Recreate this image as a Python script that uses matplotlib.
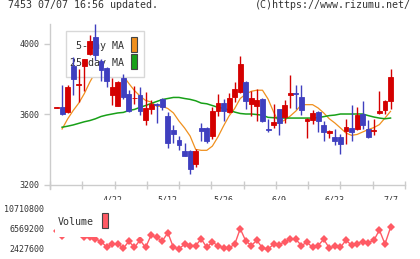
"""7453 candlestick chart with 5/25-day MA and volume panel."""
import matplotlib
matplotlib.use("Agg")
import matplotlib.pyplot as plt
import numpy as np
from matplotlib.patches import Rectangle

W, H = 420, 259

# ---- data (61 trading days, 4/8 .. 7/7) ----
opens = [3636, 3638, 3610, 3871, 3766, 3871, 3940, 4039, 3899, 3861,
         3708, 3647, 3804, 3716, 3688, 3710, 3568, 3630, 3657, 3685,
         3587, 3511, 3451, 3388, 3388, 3318, 3521, 3521, 3473, 3615,
         3662, 3610, 3696, 3723, 3782, 3657, 3647, 3685, 3517, 3540,
         3628, 3583, 3710, 3719, 3696, 3562, 3568, 3611, 3540, 3494,
         3472, 3468, 3502, 3521, 3517, 3600, 3515, 3504, 3606, 3625,
         3676]
highs = [3640, 3763, 3763, 3922, 3857, 3914, 4048, 4110, 3914, 3866,
         3803, 3785, 3827, 3738, 3757, 3751, 3725, 3681, 3662, 3690,
         3611, 3540, 3477, 3436, 3394, 3403, 3549, 3525, 3640, 3713,
         3685, 3719, 3782, 3927, 3785, 3729, 3742, 3688, 3573, 3657,
         3630, 3679, 3823, 3766, 3766, 3580, 3625, 3615, 3558, 3510,
         3515, 3487, 3573, 3649, 3638, 3672, 3564, 3573, 3732, 3680,
         3855]
lows = [3636, 3596, 3604, 3710, 3668, 3729, 3935, 3906, 3785, 3751,
        3651, 3645, 3687, 3610, 3657, 3596, 3540, 3600, 3549, 3625,
        3407, 3436, 3398, 3360, 3261, 3298, 3449, 3436, 3460, 3587,
        3562, 3608, 3668, 3720, 3628, 3587, 3562, 3555, 3498, 3521,
        3483, 3549, 3634, 3630, 3596, 3464, 3543, 3498, 3449, 3464,
        3422, 3373, 3430, 3445, 3507, 3517, 3464, 3483, 3600, 3600,
        3630]
closes = [3640, 3600, 3751, 3800, 3772, 3914, 4016, 3935, 3852, 3785,
          3755, 3780, 3696, 3615, 3693, 3615, 3634, 3659, 3650, 3640,
          3436, 3487, 3426, 3360, 3290, 3388, 3502, 3445, 3615, 3662,
          3619, 3691, 3742, 3884, 3676, 3691, 3681, 3562, 3507, 3555,
          3549, 3649, 3719, 3715, 3625, 3573, 3606, 3562, 3496, 3505,
          3449, 3430, 3526, 3500, 3592, 3540, 3470, 3508, 3619, 3676,
          3810]
ma5 = [np.nan, 3515, 3572, 3620, 3662, 3716, 3782, 3838, 3872, 3884,
       3872, 3844, 3816, 3773, 3733, 3702, 3677, 3668, 3644, 3644,
       3631, 3606, 3560, 3521, 3475, 3399, 3394, 3394, 3418, 3470,
       3532, 3589, 3631, 3688, 3713, 3729, 3735, 3735, 3685, 3611,
       3549, 3566, 3589, 3617, 3653, 3653, 3653, 3634, 3606, 3573,
       3549, 3521, 3492, 3479, 3484, 3498, 3512, 3523, 3540, 3577,
       3615]
ma25 = [np.nan, 3525, 3531, 3538, 3547, 3556, 3563, 3573, 3586, 3594,
        3600, 3606, 3609, 3620, 3626, 3638, 3648, 3660, 3671, 3682,
        3688, 3694, 3694, 3688, 3683, 3675, 3662, 3658, 3648, 3638,
        3632, 3623, 3611, 3603, 3600, 3600, 3597, 3593, 3581, 3579,
        3577, 3577, 3577, 3577, 3577, 3577, 3577, 3580, 3585, 3591,
        3594, 3600, 3600, 3600, 3600, 3600, 3591, 3583, 3577, 3573,
        3577]
volume = [6150000, 5220000, 6150000, 6570000, 5950000, 4810000, 4810000,
          4500000, 3980000, 2840000, 3460000, 3530000, 2570000, 4020000,
          2740000, 4290000, 2740000, 5330000, 4810000, 4080000, 5800000,
          2740000, 2490000, 3400000, 3150000, 3150000, 4500000, 2740000,
          3920000, 3050000, 2700000, 2700000, 3360000, 6630000, 4080000,
          3150000, 4250000, 2590000, 2430000, 3400000, 3260000, 3980000,
          4400000, 4400000, 3150000, 3820000, 2740000, 3150000, 4440000,
          2630000, 3010000, 2780000, 4250000, 3210000, 3530000, 3980000,
          3770000, 4190000, 6360000, 3460000, 6880000]
date_labels = ["4/22", "5/12", "5/26", "6/9", "6/23", "7/7"]
date_index = [10, 20, 30, 40, 50, 60]
price_ticks = [3200, 3600, 4000]
volume_ticks = [2427600, 6569200, 10710800]

RED = "#d40000"
BLUE = "#3f3fbf"
ORANGE = "#f0901e"
GREEN = "#18a018"
VOLCOL = "#ff5a64"
AXCOL = "#cccccc"
TXT = "#333333"
MONO = "DejaVu Sans Mono"


def fx(x):
    return x / W


def fy(y):
    return 1 - y / H


fig = plt.figure(figsize=(W / 100, H / 100), dpi=100)

# ---- price panel ----
ax = fig.add_axes([fx(50), fy(189), (405 - 50) / W, (189 - 24) / H])
x = np.arange(len(closes))
o = np.array(opens, float)
c = np.array(closes, float)
up = c >= o
cols = np.where(up, RED, BLUE)
ax.vlines(x, lows, highs, colors=cols, linewidth=1.0, zorder=4)
ax.bar(x, c - o, bottom=o, width=0.88, color=cols, edgecolor=cols,
       linewidth=0.6, zorder=5)
ax.plot(x, ma5, color=ORANGE, linewidth=0.9, zorder=2)
ax.plot(x, ma25, color=GREEN, linewidth=1.1, zorder=2)

ax.set_xlim(-1.17, 62.6)
ax.set_ylim(3174.5, 4110.7)
for s in ("top", "right"):
    ax.spines[s].set_visible(False)
for s in ("left", "bottom"):
    ax.spines[s].set_color(AXCOL)
    ax.spines[s].set_linewidth(1.0)
ax.spines["bottom"].set_position(("data", 3200))
ax.set_yticks(price_ticks)
ax.set_yticklabels([str(v) for v in price_ticks])
ax.tick_params(axis="y", length=4, width=1, color=AXCOL, pad=3.5,
               labelsize=6, labelcolor=TXT)
ax.set_xticks(date_index)
ax.set_xticklabels(date_labels)
ax.set_xticks(np.linspace(-1.17, 62.6, 12), minor=True)
ax.tick_params(axis="x", which="major", length=0, pad=8, labelsize=6,
               labelcolor=TXT)
ax.tick_params(axis="x", which="minor", direction="inout", length=6,
               width=1, color=AXCOL)
for lab in ax.get_xticklabels() + ax.get_yticklabels():
    lab.set_family(MONO)

# legend (drawn under the candles, over the MA lines)
ax.add_patch(Rectangle((fx(65.7), fy(77.3)), (143.7 - 65.7) / W, (77.3 - 30.7) / H,
                       transform=fig.transFigure, facecolor="white",
                       edgecolor="#d8d8d8", linewidth=1.0, zorder=3))
ax.text(fx(124), fy(46), "5-day MA", transform=fig.transFigure, ha="right",
        va="center", fontsize=7.2, family=MONO, color=TXT, zorder=3.5)
ax.text(fx(124), fy(62.5), "25-day MA", transform=fig.transFigure, ha="right",
        va="center", fontsize=7.2, family=MONO, color=TXT, zorder=3.5)
for y0, col in ((37.3, ORANGE), (54.3, GREEN)):
    ax.add_patch(Rectangle((fx(131), fy(y0 + 14.4)), 6.3 / W, 14.4 / H,
                           transform=fig.transFigure, facecolor=col,
                           edgecolor="#444444", linewidth=0.8, zorder=3.5))

# ---- volume panel ----
vax = fig.add_axes([fx(50), fy(258), (405 - 50) / W, (258 - 200) / H])
vax.plot(x, volume, color=VOLCOL, linewidth=1.0, marker="D", markersize=3.6,
         markeredgewidth=0, zorder=2)
vax.set_xlim(-1.17, 62.6)
vax.set_ylim(563880, 12574520)
for s in vax.spines.values():
    s.set_visible(False)
vax.set_xticks([])
vax.set_yticks(volume_ticks)
vax.set_yticklabels([str(v) for v in volume_ticks])
vax.tick_params(axis="y", length=0, pad=4.3, labelsize=6, labelcolor=TXT)
for lab in vax.get_yticklabels():
    lab.set_family(MONO)
vax.add_patch(Rectangle((fx(55), fy(236.7)), (143.7 - 55) / W, (236.7 - 205) / H,
                        transform=fig.transFigure, facecolor="white",
                        edgecolor="none", zorder=3))
vax.text(fx(94), fy(222), "Volume", transform=fig.transFigure, ha="right",
         va="center", fontsize=7.2, family=MONO, color=TXT, zorder=4)
vax.add_patch(Rectangle((fx(101.7), fy(228)), 6 / W, 15 / H,
                        transform=fig.transFigure, facecolor=VOLCOL,
                        edgecolor="#444444", linewidth=0.8, zorder=4))

# ---- header ----
fig.text(fx(8), fy(5.5), "7453 07/07 16:56 updated.", ha="left", va="center",
         fontsize=7.2, family=MONO, color=TXT)
fig.text(fx(411), fy(5.5), "(C)https://www.rizumu.net/", ha="right",
         va="center", fontsize=7.2, family=MONO, color=TXT)

fig.savefig("out.png", dpi=100)
